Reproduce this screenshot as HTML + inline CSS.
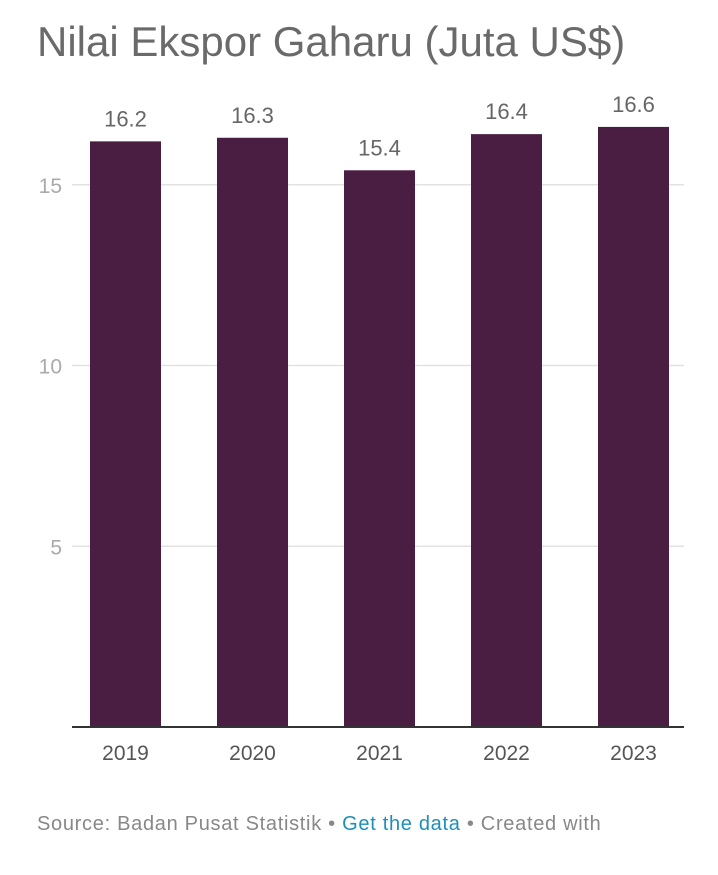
<!DOCTYPE html>
<html><head><meta charset="utf-8"><style>
html,body{margin:0;padding:0;background:#fff;width:718px;height:875px;overflow:hidden;font-family:"Liberation Sans",sans-serif}
#title{position:absolute;left:37px;top:18px;font-size:42px;font-weight:300;color:#6a6a6a;white-space:nowrap;letter-spacing:0px}
#src{position:absolute;left:37px;top:813px;font-size:20px;color:#888;white-space:nowrap;letter-spacing:0.7px}
#src a{color:#1d8fb8;text-decoration:none}
svg{position:absolute;left:0;top:0}
</style></head><body>
<div id="title">Nilai Ekspor Gaharu (Juta US$)</div>
<svg id="chart" width="718" height="875"></svg>
<div id="src">Source: Badan Pusat Statistik • <a>Get the data</a> • Created with</div>
<script>
const categories=["2019","2020","2021","2022","2023"];
const values=[16.2,16.3,15.4,16.4,16.6];
const valueLabels=["16.2","16.3","15.4","16.4","16.6"];
const yTicks=[5,10,15];
const NS="http://www.w3.org/2000/svg";
const svg=document.getElementById('chart');
const y0=727,pxPerUnit=36.15,left=72,right=684,barW=71,step=127,firstX=90;
const yScale=v=>y0-v*pxPerUnit;
const xScale=i=>firstX+i*step;
function mk(t,a){const e=document.createElementNS(NS,t);for(const k in a)e.setAttribute(k,a[k]);svg.appendChild(e);return e;}
yTicks.forEach(t=>{
 const g=mk('line',{x1:left,x2:right,y1:yScale(t),y2:yScale(t),stroke:'#e2e2e2','stroke-width':1.5});
 
 
 const l=mk('text',{x:62,y:yScale(t)+8,'text-anchor':'end','font-size':21,fill:'#aaa'});
 l.textContent=t;
 
 
});
categories.forEach((c,i)=>{
 const x=xScale(i),y=yScale(values[i]);
 const r=mk('rect',{x:x,y:y,width:barW,height:y0-y,fill:'#4a1d42'});
 
 
 const v=mk('text',{x:x+barW/2,y:y-15,'text-anchor':'middle','font-size':22,fill:'#666'});
 v.textContent=valueLabels[i];
 
 
 const xl=mk('text',{x:x+barW/2,y:760,'text-anchor':'middle','font-size':21,fill:'#555'});
 xl.textContent=c;
 
 
});
const base=mk('line',{x1:left,x2:right,y1:y0,y2:y0,stroke:'#333','stroke-width':2});


</script>
</body></html>
